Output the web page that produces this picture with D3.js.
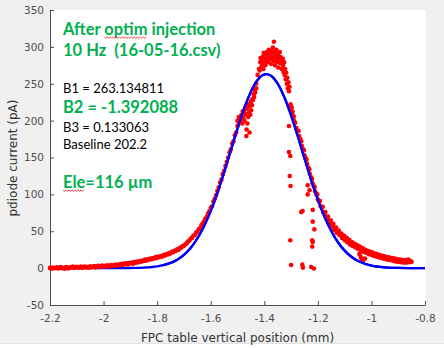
<!DOCTYPE html>
<html><head><meta charset="utf-8">
<script src="https://cdn.jsdelivr.net/npm/d3@7"></script>
<style>
html,body{margin:0;padding:0;background:#fff;}
svg{display:block;}
</style></head>
<body>
<svg id="chart" width="444" height="348"></svg>
<script>
// ---------- axis ticks ----------
const xTicks = [-2.2, -2, -1.8, -1.6, -1.4, -1.2, -1, -0.8];
const xTickLabels = ["-2.2", "-2", "-1.8", "-1.6", "-1.4", "-1.2", "-1", "-0.8"];
const yTicks = [-50, 0, 50, 100, 150, 200, 250, 300, 350];
const yTickLabels = ["-50", "0", "50", "100", "150", "200", "250", "300", "350"];
const xLabel = "FPC table vertical position (mm)";
const yLabel = "pdiode current (pA)";

// ---------- annotations ----------
const titleLines = ["After optim injection", "10 Hz  (16-05-16.csv)"];
const fitLines = ["B1 = 263.134811", "B2 = -1.392088", "B3 = 0.133063", "Baseline 202.2", "Ele=116 \u00b5m"];

// ---------- fitted gaussian (blue line) ----------
const blueX = [-2.2, -2.1, -2.0, -1.95, -1.9, -1.85, -1.8, -1.75, -1.725, -1.7, -1.675, -1.65, -1.625, -1.6, -1.575,
  -1.55, -1.525, -1.5, -1.475, -1.45, -1.425, -1.4, -1.375, -1.35, -1.325, -1.3, -1.275, -1.25, -1.225, -1.2,
  -1.175, -1.15, -1.125, -1.1, -1.075, -1.05, -1.0, -0.95, -0.9, -0.85, -0.8];
const blueY = [0, 0, 0, 0.04, 0.18, 0.7, 2.39, 7.05, 11.5, 18.06, 27.4, 40.16, 56.8, 77.55, 102.2,
  130.0, 159.7, 189.3, 216.6, 239.3, 255.2, 262.7, 261.0, 250.3, 231.8, 207.2, 178.8, 148.9, 119.7, 92.9,
  69.6, 50.3, 35.1, 23.7, 15.4, 9.68, 3.43, 1.06, 0.28, 0.07, 0];

const redLeftTail = [
  [-2.200,0.3],[-2.195,-0.8],[-2.190,0.9],[-2.185,-0.2],[-2.180,0.1],[-2.175,1.2],[-2.170,-0.6],[-2.165,0.7],
  [-2.160,1.4],[-2.155,0.0],[-2.150,0.5],[-2.145,-0.9],[-2.140,1.6],[-2.135,0.4],[-2.130,-0.3],[-2.125,1.1],
  [-2.120,0.8],[-2.115,2.0],[-2.110,0.2],[-2.105,1.3],[-2.100,1.9],[-2.095,0.6],[-2.090,1.0],[-2.085,2.2],
  [-2.080,0.4],[-2.075,1.5],[-2.070,2.3],[-2.065,1.0],[-2.060,1.6],[-2.055,0.5],[-2.050,2.4],[-2.045,1.2],
  [-2.040,1.8],[-2.035,2.9],[-2.030,0.9],[-2.025,2.2],[-2.020,3.0],[-2.015,1.6],[-2.010,2.4],[-2.005,3.4],
  [-2.000,1.8],[-1.995,3.1],[-1.990,2.6],[-1.985,3.8],[-1.980,2.2],[-1.975,3.6],[-1.970,4.3],[-1.965,2.9],
  [-1.960,3.5],[-1.955,4.8],[-1.950,3.4],[-1.945,5.0],[-1.940,4.2],[-1.935,5.6],[-1.930,4.0],[-1.925,6.1],
  [-1.920,5.3],[-1.915,6.6],[-1.910,5.0],[-1.905,7.0],[-1.900,6.2],[-1.895,7.6],[-1.890,5.9],[-1.885,8.1],
  [-1.880,7.4],[-1.875,9.0],[-1.870,7.8],[-1.865,9.6],[-1.860,8.8],[-1.855,10.4],[-1.850,9.6],[-1.845,11.5],
  [-1.840,10.2],[-1.835,12.0],[-1.830,11.3],[-1.825,13.0],[-1.820,12.1],[-1.815,13.7],[-1.810,13.0],[-1.805,14.9],
  [-1.800,13.8],[-1.795,15.6],[-1.790,15.1],[-1.785,16.5],[-1.780,15.8],[-1.775,17.9],[-1.770,17.2],[-1.765,19.0],
  [-1.760,18.5],[-1.755,20.3],[-1.750,20.0],[-1.745,22.0],[-1.740,21.6],[-1.735,23.5],[-1.730,23.4],[-1.725,25.6],
  [-1.720,25.0],[-1.715,27.5],[-1.710,27.6],[-1.705,29.8],[-1.700,30.2],[-1.695,32.0]
];
const redRise = [
  [-1.690,33.5],[-1.685,36.0],[-1.680,37.2],[-1.675,39.8],[-1.670,41.0],[-1.665,43.9],[-1.660,44.5],[-1.655,48.0],
  [-1.650,49.2],[-1.645,52.8],[-1.640,54.0],[-1.635,57.9],[-1.630,60.6],[-1.625,63.0],[-1.620,66.8],[-1.615,69.5],
  [-1.610,73.9],[-1.605,77.2],[-1.600,81.5],[-1.595,84.0],[-1.590,90.4],[-1.585,93.9],[-1.580,99.0],[-1.575,104.8],
  [-1.570,109.5],[-1.565,116.2],[-1.560,120.0],[-1.555,127.4],[-1.550,132.0],[-1.545,138.6],[-1.540,144.2],[-1.535,150.0],
  [-1.530,156.8],[-1.525,161.0],[-1.520,168.5],[-1.515,172.0],[-1.510,180.2],[-1.505,184.0],[-1.500,192.8],[-1.495,197.0],
  [-1.490,204.5],[-1.485,208.0],[-1.480,212.6],[-1.475,214.0],[-1.470,218.5],[-1.465,216.0],[-1.460,222.0],[-1.455,219.5],
  [-1.450,226.0],[-1.445,229.0],[-1.440,236.0],[-1.435,242.0],[-1.430,250.5],[-1.425,262.0],[-1.420,270.0]
];
const redSpread = [
  [-1.500,200],[-1.495,205],[-1.490,198],[-1.486,203],[-1.482,196],[-1.478,205],[-1.474,200],[-1.470,209],
  [-1.467,179],[-1.466,188],[-1.463,196],[-1.460,205],[-1.457,211],[-1.455,184],[-1.452,208],[-1.449,214],
  [-1.446,221],[-1.442,228],[-1.438,232],[-1.434,238],[-1.430,244]
];
const redPeak = [
  [-1.417,268],[-1.415,279],[-1.414,285],[-1.412,272],[-1.410,283],[-1.408,276],[-1.406,279],[-1.405,287],
  [-1.403,270],[-1.402,292],[-1.400,281],[-1.398,290],[-1.396,275],[-1.394,282],[-1.393,285],[-1.390,293],
  [-1.388,279],[-1.386,281],[-1.385,288],[-1.383,296],[-1.382,289],[-1.380,283],[-1.378,291],[-1.376,286],
  [-1.375,277],[-1.373,284],[-1.372,294],[-1.370,286],[-1.368,299],[-1.366,292],[-1.365,281],[-1.364,307],
  [-1.362,292],[-1.360,275],[-1.358,288],[-1.357,283],[-1.355,296],[-1.353,289],[-1.352,280],[-1.350,290],
  [-1.348,272],[-1.346,279],[-1.345,285],[-1.343,287],[-1.342,293],[-1.340,278],[-1.338,286],[-1.336,280],
  [-1.335,270],[-1.333,281],[-1.331,284],[-1.330,275],[-1.328,266],[-1.326,279],[-1.324,262],[-1.322,270],
  [-1.320,256],[-1.318,265],[-1.316,250],[-1.314,258],[-1.312,244],[-1.310,252],[-1.308,240],[-1.306,246],
  [-1.302,222],[-1.300,215],[-1.298,218],[-1.296,208],[-1.294,212],[-1.292,203],[-1.290,206],[-1.288,199]
];
const redFall = [
  [-1.285,197],[-1.280,190],[-1.275,186],[-1.270,179],[-1.265,175],[-1.260,166],[-1.255,161],[-1.250,153],
  [-1.245,149],[-1.240,141],[-1.235,136],[-1.230,128],[-1.225,123],[-1.220,115],[-1.215,111],[-1.210,104],
  [-1.205,100],[-1.200,93],[-1.195,90],[-1.190,84],[-1.185,82],[-1.180,76],[-1.175,74],[-1.170,69],
  [-1.165,67],[-1.160,63],[-1.155,62],[-1.150,57],[-1.145,57],[-1.140,52],[-1.135,52],[-1.130,48],
  [-1.125,48],[-1.120,45],[-1.115,45],[-1.110,41],[-1.105,41],[-1.100,38],[-1.095,38],[-1.090,35],
  [-1.085,36],[-1.080,32],[-1.075,33],[-1.070,30],[-1.065,31],[-1.060,28],[-1.055,29],[-1.050,26],
  [-1.045,27],[-1.040,24],[-1.035,25],[-1.030,22],[-1.025,23],[-1.020,21],[-1.015,22],[-1.010,19],
  [-1.005,20],[-1.000,18],[-0.995,19],[-0.990,16.5],[-0.985,18],[-0.980,15.5],[-0.975,17],[-0.970,14.5],
  [-0.965,16],[-0.960,13.5],[-0.955,15],[-0.950,12.5],[-0.945,14],[-0.940,11.5],[-0.935,13],[-0.930,11],
  [-0.925,12],[-0.920,10],[-0.915,11.5],[-0.910,9],[-0.905,10.5],[-0.900,8.5],[-0.895,10],[-0.890,8],
  [-0.885,9.5],[-0.880,7.5],[-0.875,9],[-0.870,7.5],[-0.865,9.5],[-0.860,8],[-0.855,10],[-0.850,8.5]
];
const redFallUpper = [
  [-1.272,186],[-1.262,172],[-1.252,160],[-1.242,147],[-1.232,134],[-1.222,121],[-1.212,110],[-1.202,100],
  [-1.192,91],[-1.182,83],[-1.172,76],[-1.162,70],[-1.152,65],[-1.142,60],[-1.132,55],[-1.122,51],
  [-1.112,47],[-1.102,44],[-1.092,41],[-1.082,38],[-1.072,35],[-1.062,33],[-1.052,31],[-1.042,29],
  [-1.032,27],[-1.022,25],[-1.012,23],[-1.002,22],[-0.992,20.5],[-0.982,19.5],[-0.972,18],[-0.962,17],
  [-0.952,16],[-0.942,15],[-0.932,14.5],[-0.922,13.5],[-0.912,13],[-0.902,12],[-0.892,11.5],[-0.882,11],
  [-0.872,11],[-0.862,11.5],
  [-1.045,19],[-1.040,15],[-1.036,12],[-1.030,11],[-1.024,13]
];
const redOutliers = [
  [-1.308,192.7],[-1.308,157.5],[-1.303,152],[-1.305,125],[-1.302,111.4],[-1.303,37.7],[-1.300,4.3],
  [-1.262,76],[-1.257,77.5],[-1.258,4.7],[-1.256,0.7],[-1.219,79],[-1.219,63],[-1.213,52.6],
  [-1.221,37.7],[-1.219,35.4],[-1.221,29.2],[-1.225,1.6],[-1.215,-0.6],[-1.238,112.3],[-1.231,105.5],[-1.238,100]
];

// ---------- drawing ----------
const W = 444, H = 348;
const svg = d3.select("#chart");
const x = d3.scaleLinear().domain([-2.2, -0.8]).range([50, 425]);
const y = d3.scaleLinear().domain([-50, 350]).range([305, 10]);

svg.append("rect").attr("x", 0).attr("y", 0).attr("width", W).attr("height", 343).attr("fill", "#f0f0f0");
svg.append("rect").attr("x", 0).attr("y", 343).attr("width", W).attr("height", 1).attr("fill", "#e2e2e2");
svg.append("rect").attr("x", 50).attr("y", 10).attr("width", 376).attr("height", 296).attr("fill", "#ffffff");

const axisColor = "#4d4d4d";
const gx = svg.append("g").attr("transform", "translate(0,305)")
  .call(d3.axisBottom(x).tickValues(xTicks).tickFormat((d, i) => xTickLabels[i])
    .tickSizeInner(-4).tickSizeOuter(0).tickPadding(10));
const gy = svg.append("g").attr("transform", "translate(50,0)")
  .call(d3.axisLeft(y).tickValues(yTicks).tickFormat((d, i) => yTickLabels[i])
    .tickSizeInner(-4).tickSizeOuter(0).tickPadding(6));
[gx, gy].forEach(g => {
  g.selectAll("path.domain").attr("stroke", axisColor);
  g.selectAll(".tick line").attr("stroke", axisColor);
  g.selectAll(".tick text").attr("fill", axisColor)
    .style("font-family", "'DejaVu Sans', sans-serif").style("font-size", "10.5px");
});

svg.append("text").attr("x", 237.5).attr("y", 342).attr("text-anchor", "middle")
  .attr("fill", "#333").style("font-family", "'DejaVu Sans', sans-serif").style("font-size", "12px")
  .text(xLabel);
svg.append("text").attr("transform", "translate(17,158) rotate(-90)").attr("text-anchor", "middle")
  .attr("fill", "#333").style("font-family", "'DejaVu Sans', sans-serif").style("font-size", "12px")
  .text(yLabel);

// blue fitted curve (under the points in the flat left tail, over them elsewhere)
const bluePts = blueX.map((v, i) => [v, blueY[i]]);
const blueLine = d3.line().x(d => x(d[0])).y(d => y(d[1])).curve(d3.curveCatmullRom.alpha(0.5));
svg.append("defs").append("clipPath").attr("id", "midClip")
  .append("rect").attr("x", x(-1.78)).attr("y", 0).attr("width", W - x(-1.78)).attr("height", H);
svg.append("path").datum(bluePts)
  .attr("fill", "none").attr("stroke", "#0000ff").attr("stroke-width", 2.3).attr("d", blueLine);

// red measured points
const allRed = [].concat(redLeftTail, redRise, redSpread, redPeak, redFall, redFallUpper, redOutliers);
svg.append("g").selectAll("circle").data(allRed).join("circle")
  .attr("cx", d => x(d[0])).attr("cy", d => y(d[1])).attr("r", 2.3).attr("fill", "#ff0000");

svg.append("path").datum(bluePts).attr("clip-path", "url(#midClip)")
  .attr("fill", "none").attr("stroke", "#0000ff").attr("stroke-width", 2.3).attr("d", blueLine);

// annotations
const green = "#00b050";
const textX = 63;
const t1 = svg.append("text").attr("x", textX).attr("y", 35).attr("fill", green)
  .style("font-family", "Lato, sans-serif").style("font-weight", "bold").style("font-size", "16.5px")
  .text(titleLines[0]);
svg.append("text").attr("x", textX).attr("y", 56).attr("fill", green).style("white-space", "pre")
  .style("font-family", "Lato, sans-serif").style("font-weight", "bold").style("font-size", "16.5px")
  .text(titleLines[1]);
svg.append("text").attr("x", textX).attr("y", 93).attr("fill", "#000")
  .style("font-family", "Lato, sans-serif").style("font-size", "13px").text(fitLines[0]);
svg.append("text").attr("x", textX).attr("y", 112.5).attr("fill", green)
  .style("font-family", "Lato, sans-serif").style("font-weight", "bold").style("font-size", "16.5px").text(fitLines[1]);
svg.append("text").attr("x", textX).attr("y", 132).attr("fill", "#000")
  .style("font-family", "Lato, sans-serif").style("font-size", "13px").text(fitLines[2]);
svg.append("text").attr("x", textX).attr("y", 148.5).attr("fill", "#000")
  .style("font-family", "Lato, sans-serif").style("font-size", "13px").text(fitLines[3]);
const t5 = svg.append("text").attr("x", textX).attr("y", 188).attr("fill", green)
  .style("font-family", "Lato, sans-serif").style("font-weight", "bold").style("font-size", "16.5px").text(fitLines[4]);

// spell-check style wavy underlines
function wavy(x0, x1, yy) {
  let p = "M" + x0 + "," + yy;
  let up = true;
  for (let xx = x0 + 1.5; xx <= x1; xx += 1.5) { p += "L" + xx + "," + (up ? yy + 1.3 : yy); up = !up; }
  svg.append("path").attr("d", p).attr("fill", "none").attr("stroke", "#e02020").attr("stroke-width", 0.8);
}
try {
  const n1 = t1.node();
  const s = n1.getSubStringLength(0, 6), w = n1.getSubStringLength(6, 5);
  wavy(textX + s, textX + s + w, 37);
  const n5 = t5.node();
  wavy(textX, textX + n5.getSubStringLength(0, 3), 190);
} catch (e) {}
</script>
</body></html>
